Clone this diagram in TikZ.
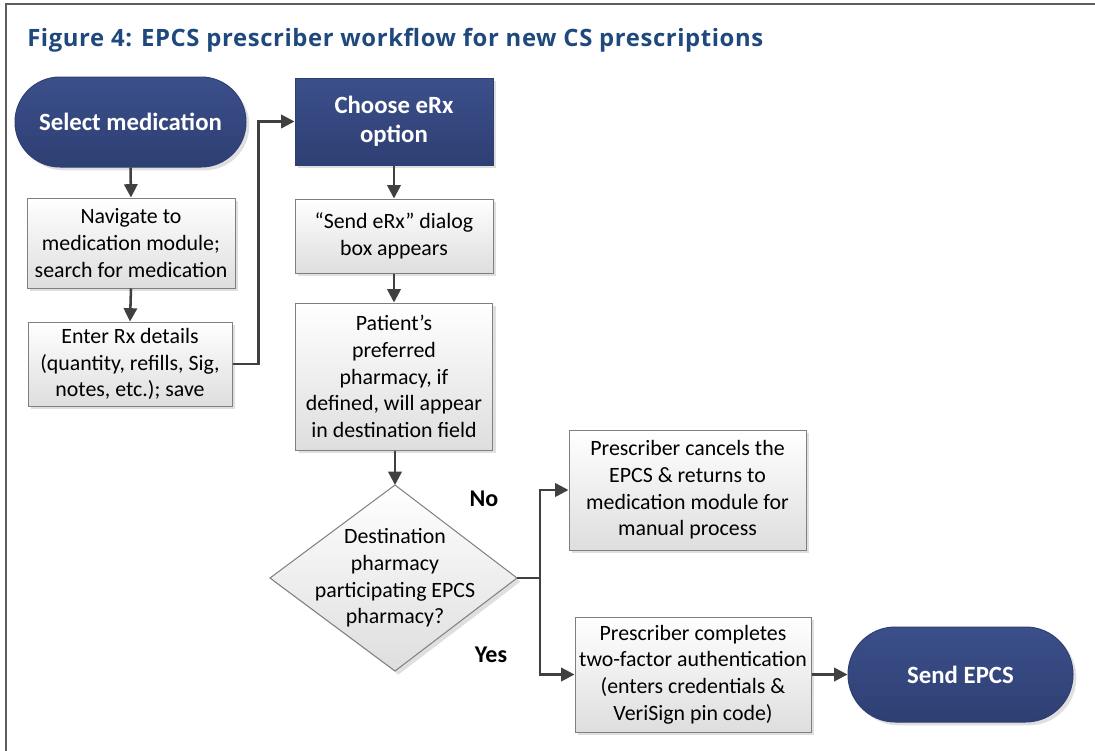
\documentclass[tikz,border=0pt]{standalone}
\usepackage{fontspec}
\setmainfont{Carlito}
\newfontfamily\titlefont[LetterSpace=2.5]{Open Sans}
\usetikzlibrary{arrows.meta,shadows,calc}
\definecolor{navytop}{HTML}{3B4F8A}
\definecolor{navybot}{HTML}{2E3F73}
\definecolor{titleblue}{HTML}{1F497D}
\definecolor{linegray}{HTML}{404040}
\definecolor{boxborder}{HTML}{7F7F7F}
\tikzset{
  graybox/.style={draw=boxborder, line width=0.75pt, top color=white, bottom color=black!13,
    drop shadow={shadow xshift=2.5pt, shadow yshift=-2.5pt, fill=black!18, opacity=0.7},
    align=center, inner sep=1pt, font=\fontsize{16.4pt}{20pt}\selectfont, text=black},
  darkbox/.style={draw=navybot, line width=0.75pt, top color=navytop, bottom color=navybot,
    drop shadow={shadow xshift=2.5pt, shadow yshift=-2.5pt, fill=black!18, opacity=0.7},
    align=center, inner sep=1pt, font=\bfseries\fontsize{18.6pt}{22pt}\selectfont, text=white},
  conn/.style={draw=linegray, line width=1.9pt, -{Triangle[length=10pt,width=10pt]}},
  plain/.style={draw=linegray, line width=1.9pt},
  lbl/.style={font=\bfseries\fontsize{18pt}{20pt}\selectfont, text=black}
}
\begin{document}
\begin{tikzpicture}[x=0.75pt,y=-0.75pt]
\useasboundingbox (0,0) rectangle (1095,750);
% frame
\draw[draw=linegray!85, line width=1.5pt] (6,752) -- (6,4) -- (1097,4);
% title
\node[anchor=base west, inner sep=0, text=titleblue, font=\titlefont\bfseries\fontsize{17.9pt}{20pt}\selectfont] (title) at (27,46)
  {Figure 4: EPCS prescriber workflow for new CS prescriptions};

% nodes
\node[darkbox, minimum width=231*0.75pt, minimum height=90*0.75pt, rounded corners=33.7pt] (sel) at (130.5,122) {Select medication};
\node[graybox, minimum width=208*0.75pt, minimum height=90*0.75pt] (nav) at (131,243) {Navigate to\\medication module;\\search for medication};
\node[graybox, minimum width=204*0.75pt, minimum height=84*0.75pt] (ent) at (130,364) {Enter Rx details\\(quantity, refills, Sig,\\notes, etc.); save};
\node[darkbox, minimum width=198*0.75pt, minimum height=87*0.75pt] (cho) at (394,121.5) {Choose eRx\\option};
\node[graybox, minimum width=198*0.75pt, minimum height=74*0.75pt] (dlg) at (394,236) {“Send eRx” dialog\\box appears};
\node[graybox, minimum width=197*0.75pt, minimum height=147*0.75pt] (pat) at (394,376.5) {Patient’s\\preferred\\pharmacy, if\\defined, will appear\\in destination field};

% diamond
\coordinate (diaT) at (395,485);
\coordinate (diaR) at (517,578);
\coordinate (diaB) at (395,671);
\coordinate (diaL) at (270,578);
\fill[black!18, opacity=0.7] ($(diaT)+(3.5,3.5)$) -- ($(diaR)+(3.5,3.5)$) -- ($(diaB)+(3.5,3.5)$) -- ($(diaL)+(3.5,3.5)$) -- cycle;
\path[draw=boxborder, line width=0.75pt, top color=white, bottom color=black!13] (diaT) -- (diaR) -- (diaB) -- (diaL) -- cycle;
\node[align=center, font=\fontsize{16.4pt}{20pt}\selectfont] (dia) at (395,578) {Destination\\pharmacy\\participating EPCS\\pharmacy?};

\node[graybox, minimum width=237*0.75pt, minimum height=120*0.75pt] (can) at (687.5,490) {Prescriber cancels the\\EPCS \& returns to\\medication module for\\manual process};
\node[graybox, minimum width=236*0.75pt, minimum height=115*0.75pt] (cmp) at (693,674.5) {Prescriber completes\\two-factor authentication\\(enters credentials \&\\VeriSign pin code)};
\node[darkbox, minimum width=225*0.75pt, minimum height=95*0.75pt, rounded corners=35.5pt] (snd) at (960.5,674.5) {Send EPCS};

% labels
\node[lbl] (no) at (484,499) {No};
\node[lbl] (yes) at (491,655) {Yes};

% connectors
\draw[conn] (sel.south) -- (nav.north);
\draw[conn] (nav.south) -- (ent.north);
\draw[conn] (ent.east) -- ++(26,0) |- (cho.west);
\draw[conn] (cho.south) -- (dlg.north);
\draw[conn] (dlg.south) -- (pat.north);
\draw[conn] (pat.south -| diaT) -- (diaT);
\coordinate (split) at (540,578);
\draw[plain] (diaR) -- (split);
\draw[conn] (split) |- (can.west);
\draw[conn] (split) |- (cmp.west);
\draw[conn] (cmp.east) -- (snd.west);
\end{tikzpicture}
\end{document}
